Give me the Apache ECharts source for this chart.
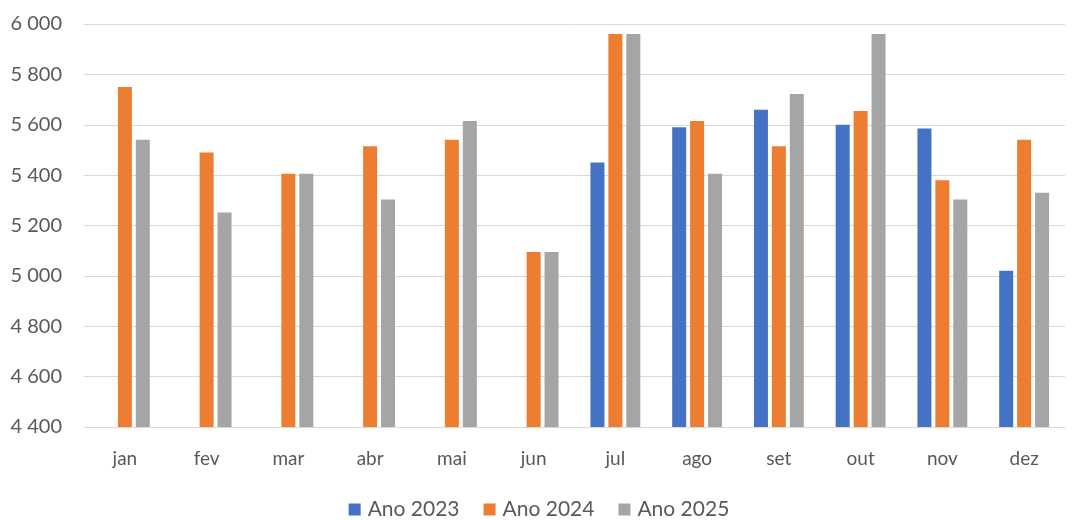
<!DOCTYPE html>
<html>
<head>
<meta charset="utf-8">
<script src="https://cdn.jsdelivr.net/npm/echarts@6/dist/echarts.min.js"></script>
<style>
  html, body { margin: 0; padding: 0; background: #fff; }
  #chart { width: 1078px; height: 520px; }
</style>
</head>
<body>
<div id="chart"></div>
<script>
// meses
const months = ['jan', 'fev', 'mar', 'abr', 'mai', 'jun', 'jul', 'ago', 'set', 'out', 'nov', 'dez'];
// valores por ano
const ano2023 = [null, null, null, null, null, null, 5450, 5590, 5660, 5600, 5585, 5020];
const ano2024 = [5750, 5490, 5405, 5515, 5540, 5095, 5960, 5615, 5515, 5655, 5380, 5540];
const ano2025 = [5540, 5252, 5405, 5303, 5615, 5095, 5960, 5405, 5722, 5960, 5303, 5330];
const seriesNames = ['Ano 2023', 'Ano 2024', 'Ano 2025'];
const colors = ['#4472C4', '#ED7D31', '#A5A5A5'];

const font = 'Lato, "Open Sans", sans-serif';

function fmt(v) {
  // separador de milhar com espaço
  return String(v).replace(/\B(?=(\d{3})+(?!\d))/g, ' ');
}

let chart = echarts.init(document.getElementById('chart'));

let option = {
  animation: false,
  color: colors,
  textStyle: { fontFamily: font },
  grid: {
    left: 84,
    right: 13,
    top: 24,
    bottom: 93,
    containLabel: false
  },
  legend: {
    bottom: -5,
    left: 'center',
    itemWidth: 12,
    itemHeight: 12,
    itemGap: 24,
    icon: 'rect',
    textStyle: { color: '#595959', fontSize: 21, fontFamily: font, padding: [0, 0, 0, 2] },
    data: seriesNames
  },
  xAxis: {
    type: 'category',
    data: months,
    axisLine: { lineStyle: { color: '#D9D9D9', width: 1 } },
    axisTick: { show: false },
    axisLabel: { color: '#595959', fontSize: 19, margin: 22, fontFamily: font }
  },
  yAxis: {
    type: 'value',
    min: 4400,
    max: 6000,
    interval: 200,
    axisLine: { show: false },
    axisTick: { show: false },
    axisLabel: {
      color: '#595959',
      fontSize: 20,
      margin: 22,
      fontFamily: font,
      formatter: fmt
    },
    splitLine: { lineStyle: { color: '#D9D9D9', width: 1 } }
  },
  series: [
    { name: seriesNames[0], type: 'bar', data: ano2023, barGap: '28%', barCategoryGap: '39%' },
    { name: seriesNames[1], type: 'bar', data: ano2024, barGap: '28%', barCategoryGap: '39%' },
    { name: seriesNames[2], type: 'bar', data: ano2025, barGap: '28%', barCategoryGap: '39%' }
  ]
};

chart.setOption(option);
</script>
</body>
</html>
